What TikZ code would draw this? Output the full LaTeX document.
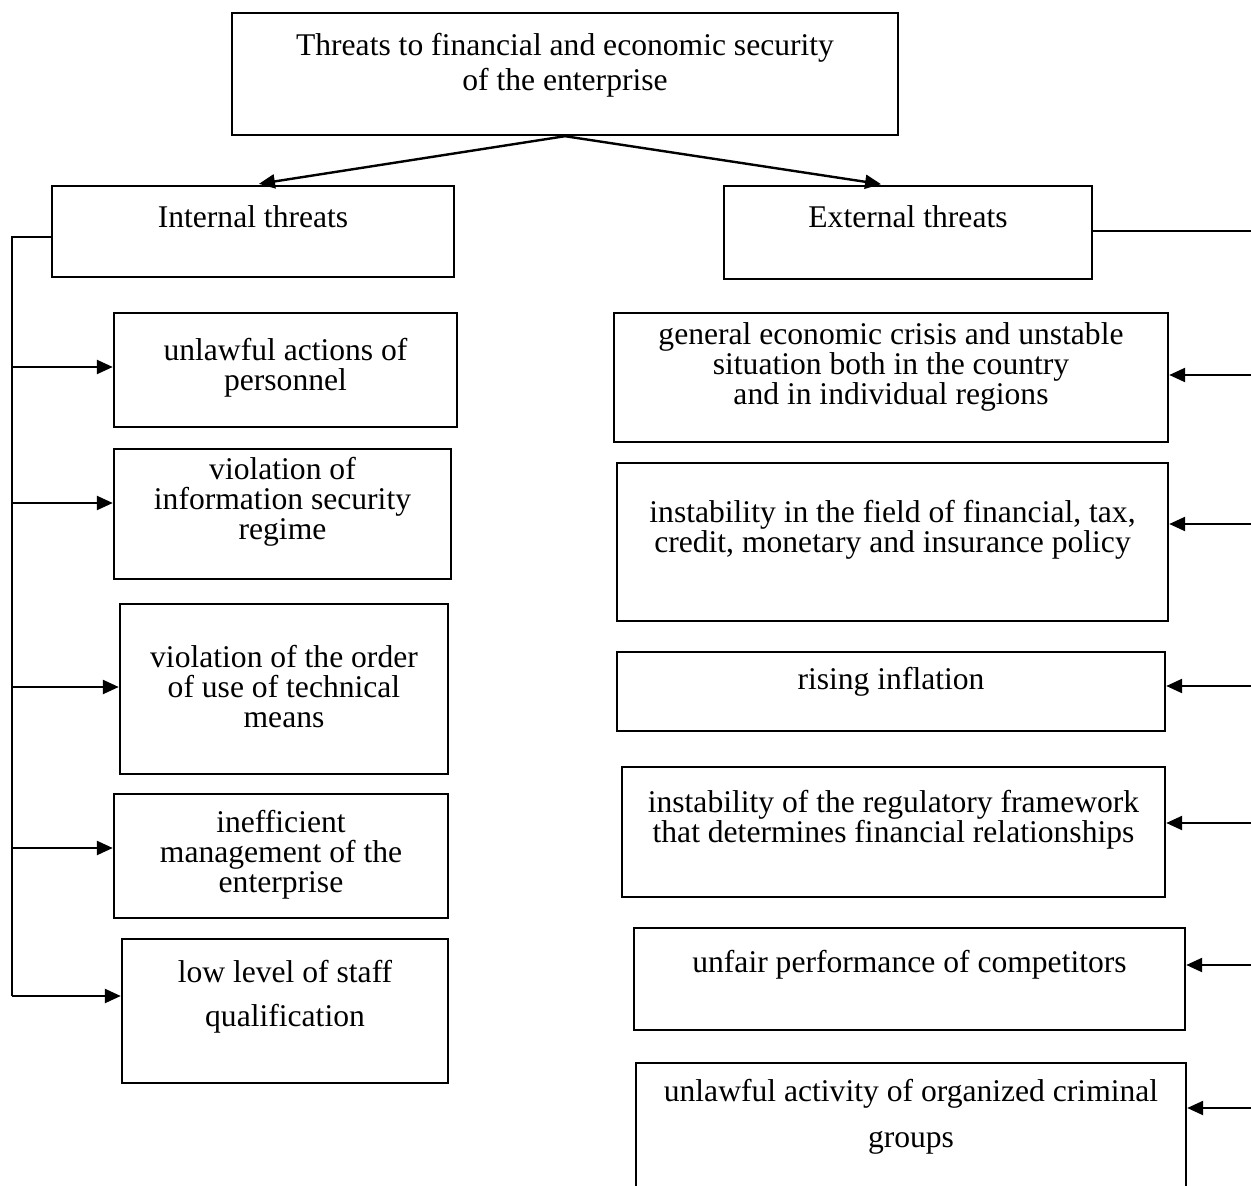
\documentclass[tikz,border=0pt]{standalone}
\usepackage{fontspec}
\setmainfont{Liberation Serif}
\usetikzlibrary{arrows.meta}
\begin{document}
\begin{tikzpicture}[x=0.5pt,y=-0.5pt,
  box/.style={draw,line width=1.2pt,inner sep=0pt},
  txt/.style={align=center,inner sep=0pt,font=\fontsize{15.8}{15}\selectfont},
  arr/.style={line width=1.2pt,-{Triangle[length=8pt,width=7pt]}},
  lin/.style={line width=0.7pt}]
\useasboundingbox (0,0) rectangle (1251,1186);

\node[box,minimum width=333pt,minimum height=61pt] (top) at (565,74) {};
\node[txt,font=\fontsize{15.8}{17.5}\selectfont] (toptxt) at (565,65.5) {Threats to financial and economic security\\of the enterprise};

\node[box,minimum width=201pt,minimum height=45.5pt] (int) at (253,231.5) {};
\node[txt] (inttxt) at (253,217) {Internal threats};
\node[box,minimum width=184pt,minimum height=46.5pt] (ext) at (908,232.5) {};
\node[txt] (exttxt) at (908,217) {External threats};

\draw[arr,shorten >=3pt] (top.south) -- (int.north);
\draw[arr,shorten >=2pt] (top.south) -- ([xshift=-11.5pt]ext.north);

\node[box,minimum width=171.5pt,minimum height=57pt] (L1) at (285.5,370) {};
\node[txt] (L1txt) at (285.5,368) {unlawful actions of\\personnel};
\node[box,minimum width=168.5pt,minimum height=65pt] (L2) at (282.5,514) {};
\node[txt] (L2txt) at (282.5,502) {violation of\\information security\\regime};
\node[box,minimum width=164pt,minimum height=85pt] (L3) at (284,689) {};
\node[txt] (L3txt) at (284,687) {violation of the order\\of use of technical\\means};
\node[box,minimum width=167pt,minimum height=62pt] (L4) at (281,856) {};
\node[txt] (L4txt) at (281,855) {inefficient\\management of the\\enterprise};
\node[box,minimum width=163pt,minimum height=72pt] (L5) at (285,1011) {};
\node[txt,font=\fontsize{15.8}{22}\selectfont] (L5txt) at (285,997) {low level of staff\\qualification};

\node[box,minimum width=277pt,minimum height=64.5pt] (R1) at (891,377.5) {};
\node[txt] (R1txt) at (891,366.5) {general economic crisis and unstable\\situation both in the country\\and in individual regions};
\node[box,minimum width=275.5pt,minimum height=79pt] (R2) at (892.5,542) {};
\node[txt] (R2txt) at (892.5,529.5) {instability in the field of financial, tax,\\credit, monetary and insurance policy};
\node[box,minimum width=274pt,minimum height=39.5pt] (R3) at (891,691.5) {};
\node[txt] (R3txt) at (891,682) {rising inflation};
\node[box,minimum width=271.5pt,minimum height=65pt] (R4) at (893.5,832) {};
\node[txt] (R4txt) at (893.5,820) {instability of the regulatory framework\\that determines financial relationships};
\node[box,minimum width=275.5pt,minimum height=51pt] (R5) at (909.5,979) {};
\node[txt] (R5txt) at (909.5,965) {unfair performance of competitors};
\node[box,minimum width=275pt,minimum height=85pt] (R6) at (911,1148) {};
\node[txt,font=\fontsize{15.8}{23}\selectfont] (R6txt) at (911,1117) {unlawful activity of organized criminal\\groups};

\coordinate (ltop) at (12,237);
\coordinate (lbot) at (12,996);
\draw[lin] (int.west |- ltop) -- (ltop) -- (lbot);
\foreach \n/\y in {L1/367,L2/503,L3/687,L4/848,L5/996}
  \draw[arr] (ltop |- 0,\y) -- (\n.west |- 0,\y);

\coordinate (rtop) at (1253,231);
\coordinate (rbot) at (1253,1108);
\draw[lin] (ext.east |- rtop) -- (rtop) -- (rbot);
\foreach \n/\y in {R1/375,R2/524,R3/686,R4/823,R5/965,R6/1108}
  \draw[arr] (rtop |- 0,\y) -- (\n.east |- 0,\y);
\end{tikzpicture}
\end{document}
